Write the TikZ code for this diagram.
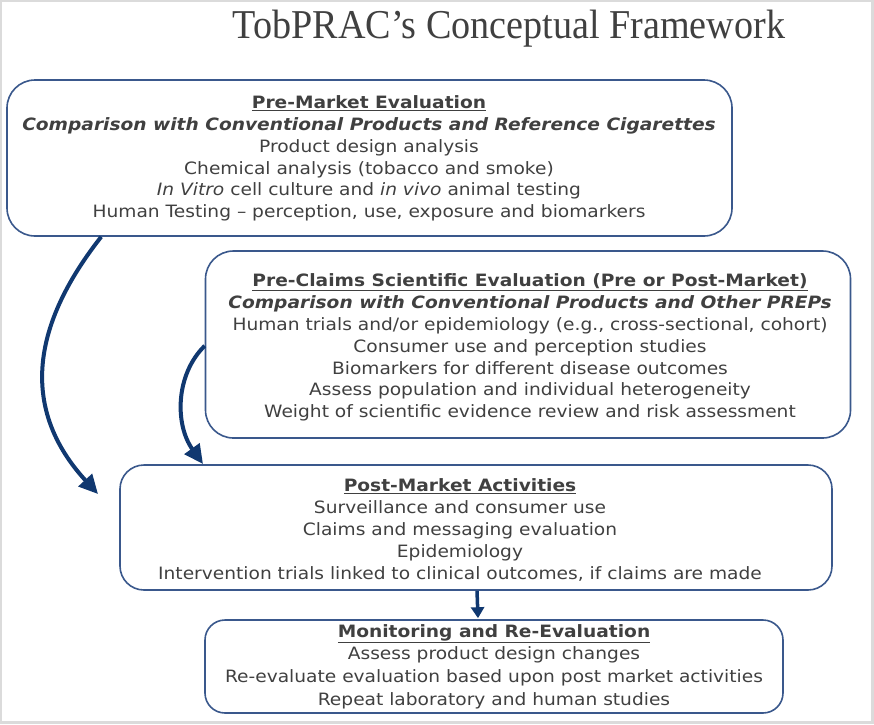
\documentclass[tikz,border=0pt]{standalone}
\usepackage{fontspec}
\setmainfont{DejaVu Sans}[FakeStretch=1.095]
\newfontfamily\titlefont{Liberation Serif}[FakeStretch=0.93]
\usepackage{xcolor}
\usetikzlibrary{arrows.meta,calc}
\definecolor{boxblue}{RGB}{58,88,140}
\definecolor{arrowblue}{RGB}{16,56,112}
\definecolor{textgray}{RGB}{64,64,64}
\tikzset{
  stagebox/.style={draw=boxblue, line width=1.6pt, rounded corners=28pt, inner sep=0pt},
  stagetext/.style={text=textgray, align=center, inner sep=0pt,
    font=\fontsize{17}{21.8}\selectfont},
  flowarrow/.style={draw=arrowblue, line width=4pt,
    -{Triangle[length=19pt,width=18pt]}}
}

\begin{document}
\begin{tikzpicture}[x=1pt,y=-1pt]
% frame
\fill[black!14] (0,0) rectangle (874,724);
\fill[white] (2,2) rectangle (871,721);
\useasboundingbox (0,0) rectangle (874,724);

% title
\node[anchor=base, text=textgray, inner sep=0pt,
  font=\titlefont\fontsize{41}{41}\selectfont] (title) at (509,38)
  {TobPRAC’s Conceptual Framework};

% Pre-market box
\node[stagebox, minimum width=725pt, minimum height=156pt] (pre) at (369.5,158) {};
\node[stagetext] (pretext) at (369,158.5) {%
  \underline{\textbf{Pre-Market Evaluation}}\\
  \textbf{\textit{Comparison with Conventional Products and Reference Cigarettes}}\\
  Product design analysis\\
  Chemical analysis (tobacco and smoke)\\
  \textit{In Vitro} cell culture and \textit{in vivo} animal testing\\
  Human Testing -- perception, use, exposure and biomarkers};

% Pre-claims box
\node[stagebox, minimum width=645pt, minimum height=187pt] (claims) at (528,344.5) {};
\node[stagetext] (claimstext) at (530,347.5) {%
  \underline{\textbf{Pre-Claims Scientific Evaluation (Pre or Post-Market)}}\\
  \textbf{\textit{Comparison with Conventional Products and Other PREPs}}\\
  Human trials and/or epidemiology (e.g., cross-sectional, cohort)\\
  Consumer use and perception studies\\
  Biomarkers for different disease outcomes\\
  Assess population and individual heterogeneity\\
  Weight of scientific evidence review and risk assessment};

% Post-market box
\node[stagebox, rounded corners=24pt, minimum width=712pt, minimum height=125pt] (post) at (476,527.5) {};
\node[stagetext] (posttext) at (460,530) {%
  \underline{\textbf{Post-Market Activities}}\\
  Surveillance and consumer use\\
  Claims and messaging evaluation\\
  Epidemiology\\
  Intervention trials linked to clinical outcomes, if claims are made};

% Monitoring box
\node[stagebox, rounded corners=20pt, minimum width=578pt, minimum height=93pt] (mon) at (494,666.5) {};
\node[stagetext, font=\fontsize{17}{22.7}\selectfont] (montext) at (494,666.5) {%
  \underline{\textbf{Monitoring and Re-Evaluation}}\\
  Assess product design changes\\
  Re-evaluate evaluation based upon post market activities\\
  Repeat laboratory and human studies};

% arrows
\coordinate (tipA) at (98,494);
\coordinate (tipB) at (203,464);
\draw[flowarrow] ($(pre.south west)+(95,0)$) .. controls (20,340) and (30,420) .. (tipA);
\draw[flowarrow] ($(claims.south west)+(0,-93)$) .. controls (175,375) and (175,425) .. (tipB);
\draw[flowarrow, line width=3.5pt, -{Triangle[length=11pt,width=13pt]}]
  ($(post.south)+(1,0)$) -- ($(mon.north)+(-16,-1)$);
\end{tikzpicture}
\end{document}
